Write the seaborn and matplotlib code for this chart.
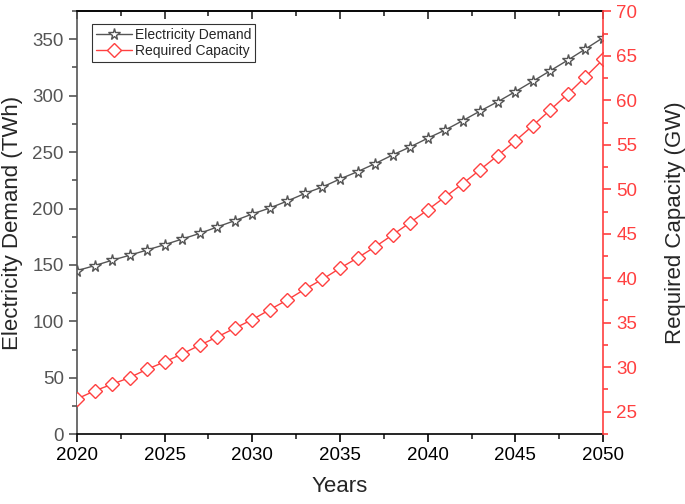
import matplotlib
matplotlib.use('Agg')
import matplotlib.pyplot as plt
from matplotlib.ticker import MultipleLocator
import pandas as pd
import seaborn as sns

sns.set_style('ticks')
plt.rcParams['font.family'] = ['Liberation Sans', 'DejaVu Sans']

# Valores
years = list(range(2020, 2051))
demand = [145.0, 149.4, 154.2, 158.6, 163.3, 168.0, 173.0, 178.0, 183.7, 189.3,
          195.2, 200.5, 206.7, 213.4, 219.1, 226.2, 232.7, 239.8, 247.5, 254.6,
          262.3, 269.6, 277.9, 286.5, 294.7, 303.6, 312.8, 322.2, 331.6, 341.4, 351.4]
capacity = [26.43, 27.33, 28.08, 28.83, 29.77, 30.59, 31.49, 32.47, 33.40, 34.38,
            35.35, 36.47, 37.57, 38.77, 39.89, 41.13, 42.29, 43.53, 44.88, 46.26,
            47.69, 49.15, 50.65, 52.22, 53.80, 55.45, 57.17, 58.94, 60.74, 62.65, 64.6]

df = pd.DataFrame({'year': years, 'demand': demand, 'capacity': capacity})

red = '#ff4040'
gray = '#555555'

fig = plt.figure(figsize=(6.85, 5.04), dpi=100)
ax = fig.add_axes([0.1124, 0.1383, 0.7679, 0.8398])
ax2 = ax.twinx()

sns.lineplot(data=df, x='year', y='demand', ax=ax, color=gray, linewidth=1,
             marker='*', markersize=8.5, markerfacecolor='white',
             markeredgecolor=gray, markeredgewidth=1, label='Electricity Demand',
             legend=False)
sns.lineplot(data=df, x='year', y='capacity', ax=ax2, color=red, linewidth=1,
             marker='D', markersize=7, markerfacecolor='white',
             markeredgecolor=red, markeredgewidth=1, label='Required Capacity',
             legend=False)

ax.set_xlim(2020, 2050)
ax.set_ylim(0, 375)
ax2.set_ylim(22.45, 70.05)

ax.xaxis.set_major_locator(MultipleLocator(5))
ax.xaxis.set_minor_locator(MultipleLocator(2.5))
ax.yaxis.set_major_locator(MultipleLocator(50))
ax.yaxis.set_minor_locator(MultipleLocator(25))
ax2.yaxis.set_major_locator(MultipleLocator(5))
ax2.yaxis.set_minor_locator(MultipleLocator(2.5))

ax.tick_params(axis='x', which='major', direction='out', length=6, width=1.2,
               labelsize=13.5, colors='black')
ax.tick_params(axis='x', which='minor', direction='out', length=3.5, width=1.2)
ax.tick_params(axis='y', which='major', direction='out', length=6, width=1.2,
               labelsize=13.5, color=gray, labelcolor=gray)
ax.tick_params(axis='y', which='minor', direction='out', length=3.5, width=1.2, color=gray)
ax2.tick_params(axis='y', which='major', direction='out', length=6, width=1.2,
                labelsize=13.5, color=red, labelcolor=red)
ax2.tick_params(axis='y', which='minor', direction='out', length=3.5, width=1.2, color=red)

# Eixo superior com ticks para dentro
top = ax.secondary_xaxis('top')
top.xaxis.set_major_locator(MultipleLocator(5))
top.xaxis.set_minor_locator(MultipleLocator(2.5))
top.tick_params(which='major', direction='in', length=6, width=1.2, labeltop=False)
top.tick_params(which='minor', direction='in', length=3.5, width=1.2)
top.spines['top'].set_linewidth(1.2)

for name in ['top', 'bottom']:
    ax.spines[name].set_color('black')
    ax.spines[name].set_linewidth(1.2)
ax.spines['left'].set_color(gray)
ax.spines['left'].set_linewidth(1.2)
ax.spines['right'].set_visible(False)
for name in ['left', 'top', 'bottom']:
    ax2.spines[name].set_visible(False)
ax2.spines['right'].set_color(red)
ax2.spines['right'].set_linewidth(1.2)

ax.set_xlabel('Years', fontsize=16, labelpad=8)
ax.set_ylabel('Electricity Demand (TWh)', fontsize=16, labelpad=7)
ax2.set_ylabel('Required Capacity (GW)', fontsize=16, labelpad=20)

lines = ax.get_lines() + ax2.get_lines()
leg = ax.legend(lines, [l.get_label() for l in lines], loc='upper left',
                bbox_to_anchor=(0.02, 0.98), fontsize=10, frameon=True,
                fancybox=False, edgecolor='black', handlelength=2.6,
                borderpad=0.3, labelspacing=0.15, handletextpad=0.2,
                borderaxespad=0.3)
leg.get_frame().set_linewidth(0.8)

fig.savefig('out.png', dpi=100)
